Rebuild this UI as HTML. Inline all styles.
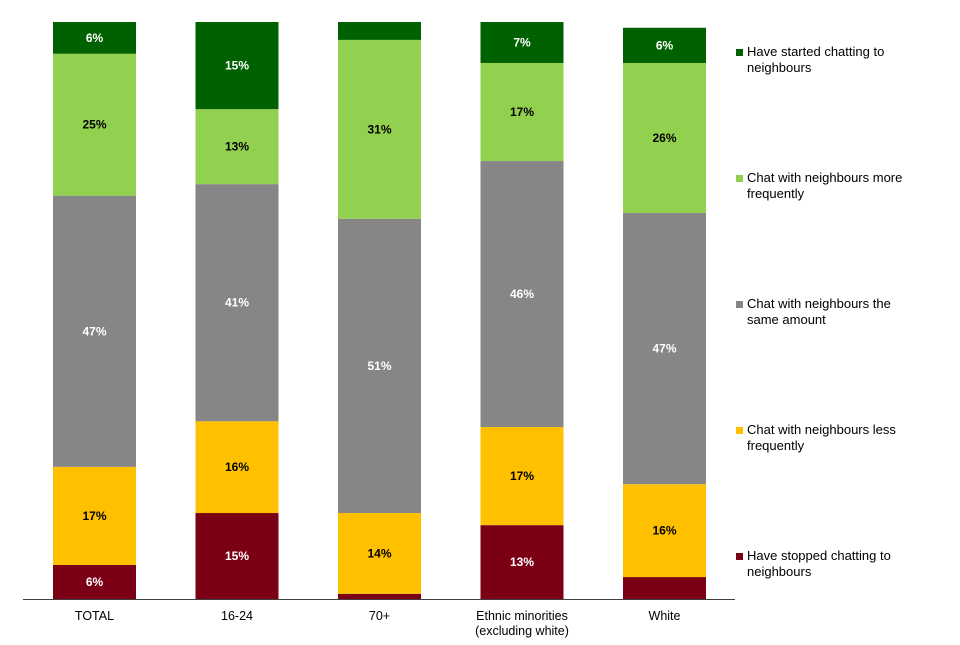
<!DOCTYPE html>
<html><head><meta charset="utf-8"><style>
body{margin:0;background:#fff;}
svg text{font-family:"Liberation Sans",Arial,sans-serif;}
</style></head><body>
<svg id="chart" width="960" height="640" xmlns="http://www.w3.org/2000/svg">
<g id="bars"></g>
<line x1="23" y1="599.5" x2="735" y2="599.5" stroke="#404040" stroke-width="1"/>
<g id="xlabels"></g>
<g id="legend"></g>
</svg>
<script>
const categories = ["TOTAL","16-24","70+","Ethnic minorities|(excluding white)","White"];
const stoppedChatting = [5.9,14.9,0.9,12.8,3.8];
const chatLess = [17.0,15.9,14.0,17.0,16.1];
const chatSame = [47.0,41.1,51.0,46.1,47.0];
const chatMore = [24.6,13.0,31.0,17.0,26.0];
const startedChatting = [5.5,15.1,3.1,7.1,6.1];
const seriesNames = ["Have stopped chatting to|neighbours","Chat with neighbours less|frequently","Chat with neighbours the|same amount","Chat with neighbours more|frequently","Have started chatting to|neighbours"];
const series = [stoppedChatting,chatLess,chatSame,chatMore,startedChatting];
const colors = ["#7B0016","#FFC000","#868686","#92D050","#006100"];
const textColors = ["#fff","#000","#fff","#000","#fff"];
const NS="http://www.w3.org/2000/svg";
const baseY=599, pxPer=5.77, x0=53, step=142.5, bw=83;
function yScale(v){return baseY - v*pxPer;}
function xScale(i){return x0 + i*step;}
const gb=document.getElementById('bars');
categories.forEach((c,i)=>{
  let cum=0;
  series.forEach((s,k)=>{
    const v=s[i];
    const y1=yScale(cum+v), y0=yScale(cum);
    const r=document.createElementNS(NS,'rect');
    
    
    r.setAttribute('x',xScale(i));r.setAttribute('y',y1);
    r.setAttribute('width',bw);r.setAttribute('height',y0-y1);
    r.setAttribute('fill',colors[k]);
    gb.appendChild(r);
    if(Math.round(v)>=5){
      const t=document.createElementNS(NS,'text');
      
      
      t.setAttribute('x',xScale(i)+bw/2);t.setAttribute('y',(y0+y1)/2+4);
      t.setAttribute('text-anchor','middle');t.setAttribute('font-size','12');
      t.setAttribute('font-weight','bold');t.setAttribute('fill',textColors[k]);
      t.textContent=Math.round(v)+'%';
      gb.appendChild(t);
    }
    cum+=v;
  });
});
const gx=document.getElementById('xlabels');
categories.forEach((c,i)=>{
  c.split('|').forEach((line,j)=>{
    const t=document.createElementNS(NS,'text');
    
    
    t.setAttribute('x',xScale(i)+bw/2);t.setAttribute('y',620+j*15);
    t.setAttribute('text-anchor','middle');t.setAttribute('font-size','12.5');
    t.setAttribute('fill','#000');
    t.textContent=line;
    gx.appendChild(t);
  });
});
const gl=document.getElementById('legend');
const legY=[559,433,307,181,55];
seriesNames.forEach((n,k)=>{
  const r=document.createElementNS(NS,'rect');
  
  
  r.setAttribute('x',736);r.setAttribute('y',legY[k]-6);
  r.setAttribute('width',7);r.setAttribute('height',7);
  r.setAttribute('fill',colors[k]);
  gl.appendChild(r);
  n.split('|').forEach((line,j)=>{
    const t=document.createElementNS(NS,'text');
    
    
    t.setAttribute('x',747);t.setAttribute('y',legY[k]+j*16+1);
    t.setAttribute('font-size','13');t.setAttribute('fill','#000');
    t.textContent=line;
    gl.appendChild(t);
  });
});
</script>
</body></html>
